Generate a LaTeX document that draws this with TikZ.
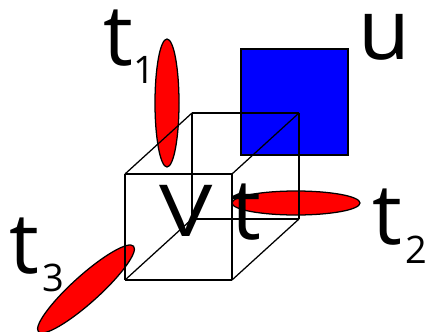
\documentclass[tikz,border=0pt]{standalone}
\usepackage{fontspec}
\setmainfont{Open Sans}
\begin{document}
\begin{tikzpicture}[line width=.9pt,
 big/.style={font=\fontsize{60}{60}\selectfont,inner sep=0pt},
 small/.style={font=\fontsize{27}{27}\selectfont,inner sep=0pt},
 disc/.style={draw,fill=red}]
\useasboundingbox (0,0) rectangle (10.625,8.275);
\draw[fill=blue] (6.025,4.4) rectangle (8.7,7.05);
\draw[disc] (4.175,5.7) ellipse (.3 and 1.6);
\draw[disc] (7.4,3.2) ellipse (1.6 and .3);
\draw[disc,rotate around={42:(2.15,1.05)}] (2.15,1.05) ellipse (1.6 and .34);
\coordinate (fsw) at (3.125,1.275);
\coordinate (fse) at (5.8,1.275);
\coordinate (fne) at (5.8,3.925);
\coordinate (fnw) at (3.125,3.925);
\coordinate (bsw) at (4.8,2.8);
\coordinate (bse) at (7.475,2.8);
\coordinate (bne) at (7.475,5.45);
\coordinate (bnw) at (4.8,5.45);
\foreach \a/\b in {fsw/fse,fse/fne,fne/fnw,fnw/fsw,bsw/bse,bse/bne,bne/bnw,bnw/bsw,fsw/bsw,fse/bse,fne/bne,fnw/bnw}{\draw (\a)--(\b);}
\node[big] (tone) at (2.95,7.325) {t};
\node[small] (subone) at (3.6,6.525) {1};
\node[big] (ttwo) at (9.675,2.85) {t};
\node[small] (subtwo) at (10.4,2.025) {2};
\node[big] (tthree) at (.6,2.125) {t};
\node[small] (subthree) at (1.325,1.325) {3};
\node[big] (ulabel) at (9.6,7.35) {u};
\node[big,font=\fontsize{51}{51}\selectfont,xscale=1.25] (vlabel) at (4.65,3) {V};
\node[big] (tlabel) at (6.15,2.975) {t};
\end{tikzpicture}
\end{document}
